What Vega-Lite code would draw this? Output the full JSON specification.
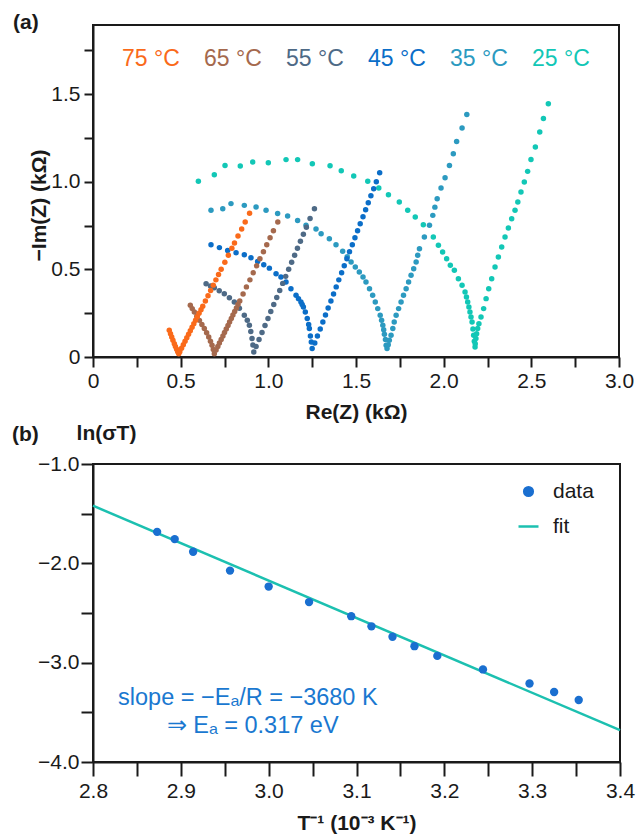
{
  "$schema": "https://vega.github.io/schema/vega-lite/v6.json",
  "padding": {"left": 11, "top": 10, "right": 5, "bottom": 0},
  "autosize": {"type": "pad"},
  "spacing": -2,
  "config": {
    "font": "Liberation Sans",
    "view": {"stroke": "#1a1a1a", "strokeWidth": 2},
    "axis": {"domainColor": "#1a1a1a", "domainWidth": 2, "tickColor": "#1a1a1a", "tickWidth": 2, "grid": false, "labelFont": "Liberation Sans", "labelFontSize": 21, "labelColor": "#1a1a1a", "titleFont": "Liberation Sans", "titleFontSize": 21, "titleFontWeight": "bold", "titleColor": "#1a1a1a"},
    "title": {"font": "Liberation Sans", "fontSize": 21, "fontWeight": "bold", "color": "#1a1a1a"}
  },
  "resolve": {"scale": {"color": "independent"}, "legend": {"color": "independent"}},
  "vconcat": [
    {
      "title": {"text": "(a)", "anchor": "start", "frame": "group", "dx": -80, "offset": -18.5, "baseline": "middle"},
      "width": 526,
      "height": 332,
      "data": {"values": [
        {"T":"25 °C","re":0.601,"im":1.002},{"T":"25 °C","re":0.692,"im":1.040},{"T":"25 °C","re":0.753,"im":1.093},{"T":"25 °C","re":0.840,"im":1.089},{"T":"25 °C","re":0.911,"im":1.112},{"T":"25 °C","re":1.000,"im":1.108},{"T":"25 °C","re":1.101,"im":1.126},{"T":"25 °C","re":1.167,"im":1.126},{"T":"25 °C","re":1.251,"im":1.102},{"T":"25 °C","re":1.352,"im":1.091},{"T":"25 °C","re":1.416,"im":1.062},{"T":"25 °C","re":1.487,"im":1.032},{"T":"25 °C","re":1.567,"im":1.002},{"T":"25 °C","re":1.630,"im":0.964},{"T":"25 °C","re":1.685,"im":0.926},{"T":"25 °C","re":1.747,"im":0.884},{"T":"25 °C","re":1.795,"im":0.837},{"T":"25 °C","re":1.838,"im":0.799},{"T":"25 °C","re":1.884,"im":0.755},{"T":"25 °C","re":1.941,"im":0.685},{"T":"25 °C","re":1.970,"im":0.637},{"T":"25 °C","re":1.994,"im":0.599},{"T":"25 °C","re":2.017,"im":0.561},{"T":"25 °C","re":2.038,"im":0.523},{"T":"25 °C","re":2.061,"im":0.495},{"T":"25 °C","re":2.084,"im":0.447},{"T":"25 °C","re":2.105,"im":0.409},{"T":"25 °C","re":2.122,"im":0.371},{"T":"25 °C","re":2.130,"im":0.342},{"T":"25 °C","re":2.137,"im":0.314},{"T":"25 °C","re":2.144,"im":0.285},{"T":"25 °C","re":2.150,"im":0.257},{"T":"25 °C","re":2.156,"im":0.228},{"T":"25 °C","re":2.162,"im":0.200},{"T":"25 °C","re":2.167,"im":0.160},{"T":"25 °C","re":2.171,"im":0.124},{"T":"25 °C","re":2.175,"im":0.090},{"T":"25 °C","re":2.179,"im":0.057},{"T":"25 °C","re":2.180,"im":0.076},{"T":"25 °C","re":2.184,"im":0.105},{"T":"25 °C","re":2.188,"im":0.133},{"T":"25 °C","re":2.194,"im":0.162},{"T":"25 °C","re":2.201,"im":0.190},{"T":"25 °C","re":2.213,"im":0.228},{"T":"25 °C","re":2.228,"im":0.276},{"T":"25 °C","re":2.242,"im":0.333},{"T":"25 °C","re":2.257,"im":0.390},{"T":"25 °C","re":2.274,"im":0.447},{"T":"25 °C","re":2.293,"im":0.514},{"T":"25 °C","re":2.312,"im":0.571},{"T":"25 °C","re":2.331,"im":0.628},{"T":"25 °C","re":2.350,"im":0.685},{"T":"25 °C","re":2.369,"im":0.736},{"T":"25 °C","re":2.388,"im":0.789},{"T":"25 °C","re":2.407,"im":0.837},{"T":"25 °C","re":2.423,"im":0.884},{"T":"25 °C","re":2.441,"im":0.941},{"T":"25 °C","re":2.460,"im":0.998},{"T":"25 °C","re":2.479,"im":1.059},{"T":"25 °C","re":2.498,"im":1.127},{"T":"25 °C","re":2.523,"im":1.198},{"T":"25 °C","re":2.548,"im":1.284},{"T":"25 °C","re":2.569,"im":1.360},{"T":"25 °C","re":2.597,"im":1.445},
        {"T":"35 °C","re":0.673,"im":0.837},{"T":"35 °C","re":0.740,"im":0.846},{"T":"35 °C","re":0.787,"im":0.875},{"T":"35 °C","re":0.863,"im":0.865},{"T":"35 °C","re":0.930,"im":0.856},{"T":"35 °C","re":0.987,"im":0.837},{"T":"35 °C","re":1.053,"im":0.818},{"T":"35 °C","re":1.110,"im":0.804},{"T":"35 °C","re":1.167,"im":0.779},{"T":"35 °C","re":1.215,"im":0.751},{"T":"35 °C","re":1.272,"im":0.730},{"T":"35 °C","re":1.301,"im":0.703},{"T":"35 °C","re":1.348,"im":0.675},{"T":"35 °C","re":1.386,"im":0.641},{"T":"35 °C","re":1.424,"im":0.603},{"T":"35 °C","re":1.450,"im":0.572},{"T":"35 °C","re":1.472,"im":0.542},{"T":"35 °C","re":1.496,"im":0.514},{"T":"35 °C","re":1.519,"im":0.485},{"T":"35 °C","re":1.540,"im":0.457},{"T":"35 °C","re":1.557,"im":0.428},{"T":"35 °C","re":1.577,"im":0.390},{"T":"35 °C","re":1.595,"im":0.352},{"T":"35 °C","re":1.610,"im":0.314},{"T":"35 °C","re":1.624,"im":0.276},{"T":"35 °C","re":1.638,"im":0.238},{"T":"35 °C","re":1.646,"im":0.210},{"T":"35 °C","re":1.653,"im":0.181},{"T":"35 °C","re":1.658,"im":0.155},{"T":"35 °C","re":1.662,"im":0.130},{"T":"35 °C","re":1.668,"im":0.100},{"T":"35 °C","re":1.672,"im":0.067},{"T":"35 °C","re":1.677,"im":0.048},{"T":"35 °C","re":1.684,"im":0.070},{"T":"35 °C","re":1.690,"im":0.095},{"T":"35 °C","re":1.700,"im":0.124},{"T":"35 °C","re":1.710,"im":0.162},{"T":"35 °C","re":1.718,"im":0.200},{"T":"35 °C","re":1.729,"im":0.238},{"T":"35 °C","re":1.743,"im":0.276},{"T":"35 °C","re":1.757,"im":0.314},{"T":"35 °C","re":1.771,"im":0.352},{"T":"35 °C","re":1.786,"im":0.390},{"T":"35 °C","re":1.800,"im":0.428},{"T":"35 °C","re":1.814,"im":0.466},{"T":"35 °C","re":1.829,"im":0.504},{"T":"35 °C","re":1.843,"im":0.542},{"T":"35 °C","re":1.852,"im":0.580},{"T":"35 °C","re":1.862,"im":0.618},{"T":"35 °C","re":1.890,"im":0.685},{"T":"35 °C","re":1.919,"im":0.751},{"T":"35 °C","re":1.938,"im":0.808},{"T":"35 °C","re":1.950,"im":0.855},{"T":"35 °C","re":1.963,"im":0.903},{"T":"35 °C","re":1.985,"im":0.964},{"T":"35 °C","re":2.008,"im":1.023},{"T":"35 °C","re":2.033,"im":1.093},{"T":"35 °C","re":2.055,"im":1.160},{"T":"35 °C","re":2.074,"im":1.230},{"T":"35 °C","re":2.105,"im":1.306},{"T":"35 °C","re":2.132,"im":1.384},
        {"T":"45 °C","re":0.673,"im":0.641},{"T":"45 °C","re":0.721,"im":0.624},{"T":"45 °C","re":0.768,"im":0.608},{"T":"45 °C","re":0.816,"im":0.595},{"T":"45 °C","re":0.863,"im":0.583},{"T":"45 °C","re":0.901,"im":0.566},{"T":"45 °C","re":0.939,"im":0.545},{"T":"45 °C","re":0.974,"im":0.526},{"T":"45 °C","re":1.006,"im":0.507},{"T":"45 °C","re":1.044,"im":0.475},{"T":"45 °C","re":1.072,"im":0.456},{"T":"45 °C","re":1.101,"im":0.428},{"T":"45 °C","re":1.129,"im":0.390},{"T":"45 °C","re":1.158,"im":0.352},{"T":"45 °C","re":1.172,"im":0.333},{"T":"45 °C","re":1.186,"im":0.314},{"T":"45 °C","re":1.193,"im":0.300},{"T":"45 °C","re":1.200,"im":0.285},{"T":"45 °C","re":1.211,"im":0.257},{"T":"45 °C","re":1.222,"im":0.220},{"T":"45 °C","re":1.230,"im":0.185},{"T":"45 °C","re":1.234,"im":0.162},{"T":"45 °C","re":1.240,"im":0.120},{"T":"45 °C","re":1.245,"im":0.085},{"T":"45 °C","re":1.250,"im":0.048},{"T":"45 °C","re":1.265,"im":0.080},{"T":"45 °C","re":1.280,"im":0.120},{"T":"45 °C","re":1.296,"im":0.160},{"T":"45 °C","re":1.311,"im":0.200},{"T":"45 °C","re":1.326,"im":0.240},{"T":"45 °C","re":1.341,"im":0.280},{"T":"45 °C","re":1.357,"im":0.320},{"T":"45 °C","re":1.372,"im":0.360},{"T":"45 °C","re":1.387,"im":0.400},{"T":"45 °C","re":1.402,"im":0.440},{"T":"45 °C","re":1.418,"im":0.480},{"T":"45 °C","re":1.433,"im":0.520},{"T":"45 °C","re":1.448,"im":0.560},{"T":"45 °C","re":1.463,"im":0.600},{"T":"45 °C","re":1.479,"im":0.640},{"T":"45 °C","re":1.494,"im":0.680},{"T":"45 °C","re":1.509,"im":0.720},{"T":"45 °C","re":1.524,"im":0.760},{"T":"45 °C","re":1.540,"im":0.800},{"T":"45 °C","re":1.555,"im":0.840},{"T":"45 °C","re":1.570,"im":0.880},{"T":"45 °C","re":1.585,"im":0.920},{"T":"45 °C","re":1.601,"im":0.960},{"T":"45 °C","re":1.616,"im":1.000},{"T":"45 °C","re":1.635,"im":1.051},
        {"T":"55 °C","re":0.645,"im":0.418},{"T":"55 °C","re":0.670,"im":0.405},{"T":"55 °C","re":0.692,"im":0.395},{"T":"55 °C","re":0.720,"im":0.378},{"T":"55 °C","re":0.749,"im":0.361},{"T":"55 °C","re":0.778,"im":0.338},{"T":"55 °C","re":0.806,"im":0.314},{"T":"55 °C","re":0.835,"im":0.278},{"T":"55 °C","re":0.863,"im":0.238},{"T":"55 °C","re":0.880,"im":0.210},{"T":"55 °C","re":0.892,"im":0.181},{"T":"55 °C","re":0.900,"im":0.145},{"T":"55 °C","re":0.907,"im":0.105},{"T":"55 °C","re":0.912,"im":0.068},{"T":"55 °C","re":0.917,"im":0.029},{"T":"55 °C","re":0.930,"im":0.060},{"T":"55 °C","re":0.947,"im":0.100},{"T":"55 °C","re":0.964,"im":0.140},{"T":"55 °C","re":0.981,"im":0.180},{"T":"55 °C","re":0.998,"im":0.220},{"T":"55 °C","re":1.014,"im":0.260},{"T":"55 °C","re":1.031,"im":0.300},{"T":"55 °C","re":1.048,"im":0.340},{"T":"55 °C","re":1.065,"im":0.380},{"T":"55 °C","re":1.082,"im":0.420},{"T":"55 °C","re":1.099,"im":0.460},{"T":"55 °C","re":1.116,"im":0.500},{"T":"55 °C","re":1.133,"im":0.540},{"T":"55 °C","re":1.150,"im":0.580},{"T":"55 °C","re":1.166,"im":0.620},{"T":"55 °C","re":1.183,"im":0.660},{"T":"55 °C","re":1.200,"im":0.700},{"T":"55 °C","re":1.217,"im":0.740},{"T":"55 °C","re":1.238,"im":0.790},{"T":"55 °C","re":1.263,"im":0.846},
        {"T":"65 °C","re":0.555,"im":0.295},{"T":"65 °C","re":0.566,"im":0.276},{"T":"65 °C","re":0.578,"im":0.257},{"T":"65 °C","re":0.592,"im":0.233},{"T":"65 °C","re":0.607,"im":0.209},{"T":"65 °C","re":0.621,"im":0.185},{"T":"65 °C","re":0.635,"im":0.162},{"T":"65 °C","re":0.648,"im":0.138},{"T":"65 °C","re":0.660,"im":0.114},{"T":"65 °C","re":0.670,"im":0.090},{"T":"65 °C","re":0.679,"im":0.067},{"T":"65 °C","re":0.686,"im":0.043},{"T":"65 °C","re":0.692,"im":0.019},{"T":"65 °C","re":0.702,"im":0.040},{"T":"65 °C","re":0.712,"im":0.060},{"T":"65 °C","re":0.721,"im":0.080},{"T":"65 °C","re":0.731,"im":0.100},{"T":"65 °C","re":0.741,"im":0.120},{"T":"65 °C","re":0.750,"im":0.140},{"T":"65 °C","re":0.760,"im":0.160},{"T":"65 °C","re":0.770,"im":0.180},{"T":"65 °C","re":0.779,"im":0.200},{"T":"65 °C","re":0.789,"im":0.220},{"T":"65 °C","re":0.798,"im":0.240},{"T":"65 °C","re":0.808,"im":0.260},{"T":"65 °C","re":0.818,"im":0.280},{"T":"65 °C","re":0.827,"im":0.300},{"T":"65 °C","re":0.837,"im":0.320},{"T":"65 °C","re":0.856,"im":0.360},{"T":"65 °C","re":0.875,"im":0.400},{"T":"65 °C","re":0.895,"im":0.440},{"T":"65 °C","re":0.914,"im":0.480},{"T":"65 °C","re":0.933,"im":0.520},{"T":"65 °C","re":0.952,"im":0.560},{"T":"65 °C","re":0.972,"im":0.600},{"T":"65 °C","re":0.991,"im":0.640},{"T":"65 °C","re":1.010,"im":0.680},{"T":"65 °C","re":1.029,"im":0.720},{"T":"65 °C","re":1.054,"im":0.770},
        {"T":"75 °C","re":0.435,"im":0.152},{"T":"75 °C","re":0.442,"im":0.133},{"T":"75 °C","re":0.449,"im":0.114},{"T":"75 °C","re":0.456,"im":0.095},{"T":"75 °C","re":0.464,"im":0.076},{"T":"75 °C","re":0.470,"im":0.060},{"T":"75 °C","re":0.477,"im":0.044},{"T":"75 °C","re":0.483,"im":0.030},{"T":"75 °C","re":0.489,"im":0.019},{"T":"75 °C","re":0.495,"im":0.030},{"T":"75 °C","re":0.505,"im":0.050},{"T":"75 °C","re":0.515,"im":0.070},{"T":"75 °C","re":0.525,"im":0.090},{"T":"75 °C","re":0.535,"im":0.110},{"T":"75 °C","re":0.545,"im":0.130},{"T":"75 °C","re":0.555,"im":0.150},{"T":"75 °C","re":0.565,"im":0.170},{"T":"75 °C","re":0.575,"im":0.190},{"T":"75 °C","re":0.585,"im":0.210},{"T":"75 °C","re":0.595,"im":0.230},{"T":"75 °C","re":0.605,"im":0.250},{"T":"75 °C","re":0.616,"im":0.270},{"T":"75 °C","re":0.626,"im":0.290},{"T":"75 °C","re":0.641,"im":0.320},{"T":"75 °C","re":0.656,"im":0.350},{"T":"75 °C","re":0.671,"im":0.380},{"T":"75 °C","re":0.686,"im":0.410},{"T":"75 °C","re":0.701,"im":0.440},{"T":"75 °C","re":0.716,"im":0.470},{"T":"75 °C","re":0.731,"im":0.500},{"T":"75 °C","re":0.752,"im":0.540},{"T":"75 °C","re":0.772,"im":0.580},{"T":"75 °C","re":0.792,"im":0.620},{"T":"75 °C","re":0.807,"im":0.650},{"T":"75 °C","re":0.827,"im":0.690},{"T":"75 °C","re":0.848,"im":0.730},{"T":"75 °C","re":0.868,"im":0.770},{"T":"75 °C","re":0.893,"im":0.820}
      ]},
      "mark": {"type": "point", "filled": true, "size": 30, "opacity": 1},
      "encoding": {
        "x": {"field": "re", "type": "quantitative", "scale": {"domain": [0, 3], "nice": false, "zero": false},
          "axis": {"title": "Re(Z) (kΩ)", "values": [0,0.25,0.5,0.75,1,1.25,1.5,1.75,2,2.25,2.5,2.75,3],
            "labelExpr": "abs(datum.value*2 - round(datum.value*2)) < 0.001 ? (datum.value == 0 ? '0' : format(datum.value, '.1f')) : ''",
            "tickSize": 10, "labelPadding": 3, "titlePadding": 10, "labelFlush": false, "labelOverlap": false,
            "encode": {"ticks": {"update": {"y2": {"signal": "abs(datum.value*2 - round(datum.value*2)) < 0.001 ? 10 : 6.5"}}}}}},
        "y": {"field": "im", "type": "quantitative", "scale": {"domain": [0, 1.894], "nice": false, "zero": false},
          "axis": {"title": "−Im(Z) (kΩ)", "values": [0,0.25,0.5,0.75,1,1.25,1.5,1.75],
            "labelExpr": "abs(datum.value*2 - round(datum.value*2)) < 0.001 ? (datum.value == 0 ? '0' : format(datum.value, '.1f')) : ''",
            "tickSize": 9, "labelPadding": 4, "labelFlush": false, "labelOverlap": false,
            "titleX": -54, "titleY": 180, "titleAlign": "center", "titleBaseline": "middle", "titleAngle": 270,
            "encode": {"ticks": {"update": {"x2": {"signal": "abs(datum.value*2 - round(datum.value*2)) < 0.001 ? -9 : -6"}}}}}},
        "color": {"field": "T", "type": "nominal",
          "scale": {"domain": ["75 °C","65 °C","55 °C","45 °C","35 °C","25 °C"], "range": ["#fa6a1a","#a5694d","#4e6a86","#0b6ec8","#2c9ac0","#12c7b6"]},
          "legend": {"orient": "none", "legendX": 6, "legendY": 22, "direction": "horizontal", "columns": 6, "title": null,
            "symbolSize": 0, "symbolOpacity": 0, "symbolStrokeWidth": 0, "labelOffset": 0, "labelFontSize": 23, "labelFont": "Liberation Sans", "columnPadding": 1, "labelLimit": 200,
            "encode": {"labels": {"update": {"fill": {"signal": "['#fa6a1a','#a5694d','#4e6a86','#0b6ec8','#2c9ac0','#12c7b6'][indexof(['75 °C','65 °C','55 °C','45 °C','35 °C','25 °C'], datum.label)]"}}}}}}
      }
    },
    {
      "title": {"text": "(b)", "anchor": "start", "frame": "group", "dx": -81, "offset": -34, "baseline": "middle"},
      "width": 527,
      "height": 298,
      "encoding": {
        "x": {"field": "x", "type": "quantitative", "scale": {"domain": [2.8, 3.4], "nice": false, "zero": false},
          "axis": {"title": "T⁻¹ (10⁻³ K⁻¹)", "values": [2.8,2.85,2.9,2.95,3.0,3.05,3.1,3.15,3.2,3.25,3.3,3.35,3.4],
            "labelExpr": "abs(datum.value*10 - round(datum.value*10)) < 0.001 ? format(datum.value, '.1f') : ''",
            "tickSize": 14, "labelPadding": 4, "titlePadding": 11, "labelFlush": false, "labelOverlap": false,
            "encode": {"ticks": {"update": {"y2": {"signal": "abs(datum.value*10 - round(datum.value*10)) < 0.001 ? 14 : 8"}}}}}},
        "y": {"field": "y", "type": "quantitative", "scale": {"domain": [-4, -1], "nice": false, "zero": false},
          "axis": {"title": "ln(σT)", "values": [-4,-3.5,-3,-2.5,-2,-1.5,-1],
            "labelExpr": "abs(datum.value - round(datum.value)) < 0.001 ? format(datum.value, '.1f') : ''",
            "tickSize": 12, "labelPadding": 2, "labelFlush": false, "labelOverlap": false,
            "titleAngle": 0, "titleX": 13, "titleY": -31, "titleAlign": "center", "titleBaseline": "middle",
            "encode": {"ticks": {"update": {"x2": {"signal": "abs(datum.value - round(datum.value)) < 0.001 ? -12 : -6"}}}}}}
      },
      "layer": [
        {
          "data": {"values": [{"x": 2.8, "y": -1.42, "s": "fit"}, {"x": 3.4, "y": -3.68, "s": "fit"}]},
          "mark": {"type": "line", "strokeWidth": 2.5},
          "encoding": {"color": {"field": "s", "type": "nominal", "scale": {"domain": ["data", "fit"], "range": ["#1a6fd0", "#1cc0b0"]},
            "legend": {"orient": "none", "legendX": 425, "legendY": 17, "title": null, "labelFontSize": 21, "labelFont": "Liberation Sans", "labelColor": "#1a1a1a", "labelOffset": 14, "rowPadding": 13, "symbolSize": 400, "symbolStrokeWidth": 2.5,
              "encode": {"symbols": {"update": {
                "shape": {"signal": "datum.value === 'fit' ? 'stroke' : 'circle'"},
                "size": {"signal": "datum.value === 'fit' ? 400 : 75"},
                "fill": {"signal": "datum.value === 'fit' ? 'transparent' : '#2a95e0'"},
                "stroke": {"signal": "datum.value === 'fit' ? '#1cc0b0' : 'transparent'"},
                "strokeWidth": {"value": 2.5},
                "opacity": {"value": 1}}}}}}}
        },
        {
          "data": {"values": [
            {"x": 2.873, "y": -1.683, "s": "data"},{"x": 2.893, "y": -1.756, "s": "data"},{"x": 2.914, "y": -1.883, "s": "data"},{"x": 2.956, "y": -2.073, "s": "data"},{"x": 3.0, "y": -2.234, "s": "data"},{"x": 3.046, "y": -2.39, "s": "data"},{"x": 3.094, "y": -2.532, "s": "data"},{"x": 3.117, "y": -2.634, "s": "data"},{"x": 3.141, "y": -2.739, "s": "data"},{"x": 3.166, "y": -2.834, "s": "data"},{"x": 3.192, "y": -2.932, "s": "data"},{"x": 3.244, "y": -3.068, "s": "data"},{"x": 3.297, "y": -3.21, "s": "data"},{"x": 3.325, "y": -3.295, "s": "data"},{"x": 3.353, "y": -3.376, "s": "data"}
          ]},
          "mark": {"type": "point", "filled": true, "size": 70, "opacity": 1},
          "encoding": {"color": {"field": "s", "type": "nominal", "scale": {"domain": ["data", "fit"], "range": ["#1a6fd0", "#1cc0b0"]},
            "legend": {"orient": "none", "legendX": 425, "legendY": 17, "title": null, "labelFontSize": 21, "labelFont": "Liberation Sans", "labelColor": "#1a1a1a", "labelOffset": 14, "rowPadding": 13, "symbolSize": 400, "symbolStrokeWidth": 2.5,
              "encode": {"symbols": {"update": {
                "shape": {"signal": "datum.value === 'fit' ? 'stroke' : 'circle'"},
                "size": {"signal": "datum.value === 'fit' ? 400 : 75"},
                "fill": {"signal": "datum.value === 'fit' ? 'transparent' : '#2a95e0'"},
                "stroke": {"signal": "datum.value === 'fit' ? '#1cc0b0' : 'transparent'"},
                "strokeWidth": {"value": 2.5},
                "opacity": {"value": 1}}}}}}}
        },
        {
          "data": {"values": [
            {"x": 2.8285, "y": -3.353, "label": "slope = −Eₐ/R = −3680 K"},
            {"x": 2.884, "y": -3.64, "label": "⇒ Eₐ = 0.317 eV"}
          ]},
          "mark": {"type": "text", "align": "left", "baseline": "middle", "fontSize": 23.5, "font": "Liberation Sans", "color": "#1a78d0"},
          "encoding": {"text": {"field": "label"}}
        }
      ]
    }
  ]
}
